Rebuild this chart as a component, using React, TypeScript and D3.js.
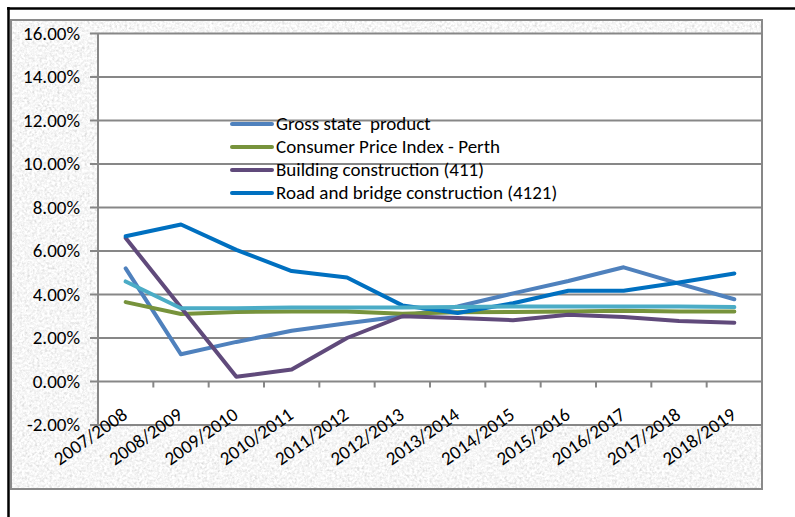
import React from 'react';
import * as d3 from 'd3';

const categories = ['2007/2008', '2008/2009', '2009/2010', '2010/2011', '2011/2012', '2012/2013', '2013/2014', '2014/2015', '2015/2016', '2016/2017', '2017/2018', '2018/2019'];
const gsp = [5.2, 1.25, 1.82, 2.33, 2.68, 3.0, 3.45, 4.05, 4.62, 5.25, 4.5, 3.78];
const cpi = [3.65, 3.1, 3.2, 3.22, 3.22, 3.12, 3.18, 3.2, 3.22, 3.25, 3.22, 3.22];
const building = [6.6, 3.4, 0.22, 0.55, 2.0, 3.0, 2.92, 2.82, 3.07, 2.96, 2.78, 2.7];
const road = [6.68, 7.22, 6.05, 5.08, 4.78, 3.5, 3.15, 3.6, 4.17, 4.17, 4.55, 4.97];
const unlabelled = [4.6, 3.37, 3.37, 3.4, 3.4, 3.4, 3.42, 3.45, 3.45, 3.45, 3.45, 3.42];
const yTicks = [-2, 0, 2, 4, 6, 8, 10, 12, 14, 16];

const series = [
  { name: 'Gross state  product', values: gsp, color: '#4F81BD', legend: true },
  { name: 'Consumer Price Index - Perth', values: cpi, color: '#77933C', legend: true },
  { name: 'Building construction (411)', values: building, color: '#604A7B', legend: true },
  { name: 'Road and bridge construction (4121)', values: road, color: '#0070C0', legend: true },
  { name: '', values: unlabelled, color: '#4BACC6', legend: false },
];

const FONT = "Carlito, 'Liberation Sans', sans-serif";
const FS = 19;

export default function App() {
  const left = 98, right = 762, top = 33.5, bottom = 425;
  const x = d3.scaleBand().domain(categories).range([left, right]);
  const y = d3.scaleLinear().domain([-2, 16]).range([bottom, top]);
  const cx = (c: string) => (x(c) as number) + x.bandwidth() / 2;
  const line = d3.line<number>().x((_, i) => cx(categories[i])).y((d) => y(d));
  const grid = '#878787';
  const legendSeries = series.filter((s) => s.legend);

  return (
    <svg width={795} height={517} style={{ position: 'absolute', left: 0, top: 0, background: '#fff' }}>
      <defs>
        <filter id="paper" x="0" y="0" width="100%" height="100%">
          <feTurbulence type="fractalNoise" baseFrequency="0.4" numOctaves="3" seed="7" result="n" />
          <feColorMatrix in="n" type="matrix" values="0.3 0.3 0.3 0 0.47  0.3 0.3 0.3 0 0.47  0.3 0.3 0.3 0 0.47  0 0 0 0 1" />
        </filter>
      </defs>
      {/* outer frame */}
      <line x1={7} x2={795} y1={8.5} y2={8.5} stroke="#000" strokeWidth={2.5} />
      <line x1={8.5} x2={8.5} y1={7} y2={517} stroke="#000" strokeWidth={2.5} />
      {/* textured chart area */}
      <rect x={11} y={20} width={751} height={469} filter="url(#paper)" />
      <rect x={11} y={20} width={751} height={469} fill="none" stroke="#8a8a8a" strokeWidth={2} />
      {/* plot area */}
      <rect x={left} y={top} width={right - left} height={bottom - top} fill="#fff" />
      {yTicks.map((t) => (
        <line key={t} x1={left - 8} x2={right} y1={y(t)} y2={y(t)} stroke={grid} strokeWidth={2} />
      ))}
      <line x1={left} x2={left} y1={top} y2={bottom} stroke={grid} strokeWidth={2} />
      <line x1={right} x2={right} y1={top} y2={bottom} stroke={grid} strokeWidth={2} />
      {categories.slice(1).map((c) => (
        <line key={c} x1={x(c) as number} x2={x(c) as number} y1={y(0)} y2={y(0) + 6} stroke={grid} strokeWidth={2} />
      ))}
      {yTicks.map((t) => (
        <text key={t} x={80} y={y(t)} dy="0.33em" textAnchor="end" fontFamily={FONT} fontSize={FS} fill="#000">
          {t.toFixed(2) + '%'}
        </text>
      ))}
      {categories.map((c) => (
        <text key={c} transform={`translate(${cx(c) + 3},${y(0) + 36}) rotate(-35)`} textAnchor="end" fontFamily={FONT} fontSize={FS} fill="#000">
          {c}
        </text>
      ))}
      {series.map((s, i) => (
        <path key={i} d={line(s.values) as string} fill="none" stroke={s.color} strokeWidth={4} strokeLinejoin="round" strokeLinecap="round" />
      ))}
      {legendSeries.map((s, i) => (
        <g key={s.name} transform={`translate(232,${124 + i * 23})`}>
          <line x1={0} x2={40} y1={0} y2={0} stroke={s.color} strokeWidth={4} strokeLinecap="round" />
          <text x={44} y={0} dy="0.33em" fontFamily={FONT} fontSize={FS} fill="#000" style={{ whiteSpace: 'pre' }}>{s.name}</text>
        </g>
      ))}
    </svg>
  );
}
